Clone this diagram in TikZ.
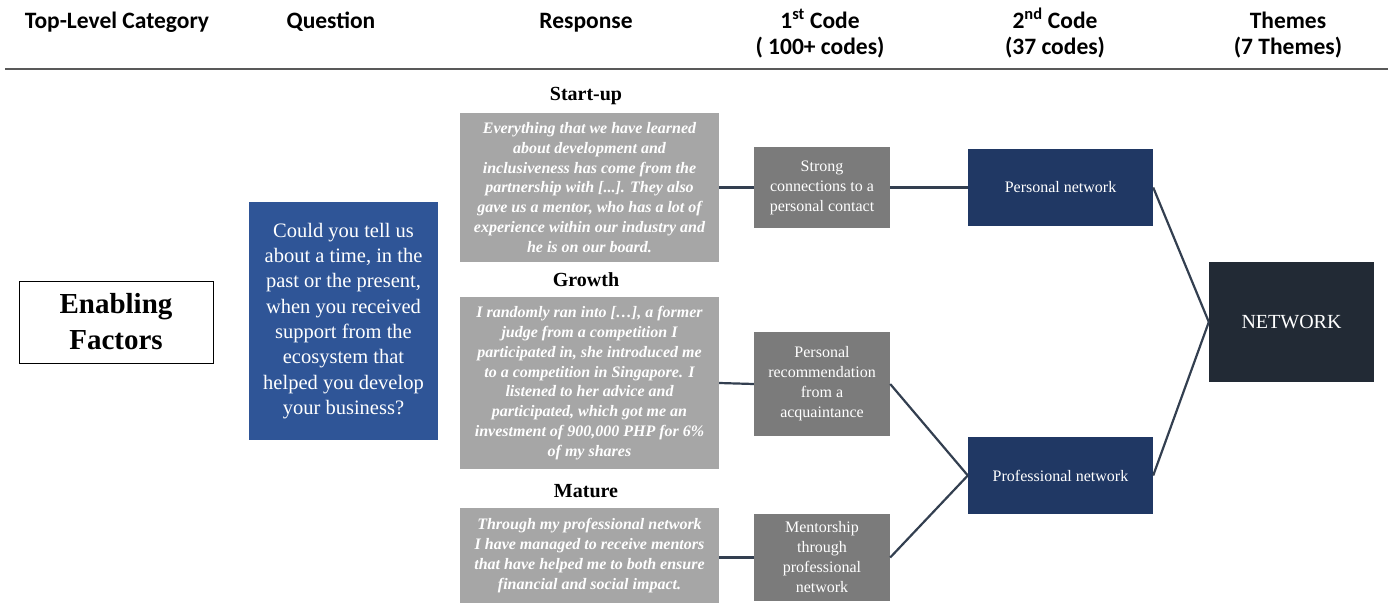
\documentclass[tikz,border=0pt]{standalone}
\usepackage{fontspec}
\setmainfont{Liberation Serif}
\newfontfamily\hdrfont{Carlito}
\begin{document}
\begin{tikzpicture}[x=1pt,y=-1pt,
  hdr/.style={font=\hdrfont\bfseries\fontsize{23.5}{28}\selectfont, inner sep=0, anchor=base},
  box/.style={inner sep=0, align=center, anchor=center},
  resp/.style={box, fill=respgray, text=white, font=\bfseries\itshape\fontsize{16}{19.8}\selectfont},
  stage/.style={inner sep=0, font=\bfseries\fontsize{20}{24}\selectfont},
  codeone/.style={box, fill=codegray, text=white, font=\fontsize{16}{20}\selectfont},
  codetwo/.style={box, fill=navy, text=white, font=\fontsize{16}{20}\selectfont},
  link/.style={draw=linkcol, line width=2.2pt}
]
\definecolor{respgray}{HTML}{A6A6A6}
\definecolor{codegray}{HTML}{7B7B7B}
\definecolor{navy}{HTML}{203864}
\definecolor{qblue}{HTML}{2F5597}
\definecolor{themecol}{HTML}{222A35}
\definecolor{linkcol}{HTML}{333F50}
\definecolor{rulegray}{HTML}{595959}
\useasboundingbox (0,0) rectangle (1391,604);

% column headings
\node[hdr] (h1) at (117,29) {Top-Level Category};
\node[hdr] (h2) at (331,29) {Question};
\node[hdr] (h3) at (586,29) {Response};
\node[hdr] (h4) at (820,29) {1\textsuperscript{st} Code};
\node[hdr] (h4b) at (820,55) {( 100+ codes)};
\node[hdr] (h5) at (1055,29) {2\textsuperscript{nd} Code};
\node[hdr] (h5b) at (1055,55) {(37 codes)};
\node[hdr] (h6) at (1288,29) {Themes};
\node[hdr] (h6b) at (1288,55) {(7 Themes)};
\draw[rulegray, line width=2.5pt] (5,69) -- (1388,69);

% category and question
\node[box, draw=black, line width=1pt, minimum width=194, minimum height=82,
  font=\bfseries\fontsize{29}{36}\selectfont] (cat) at (116,322) {Enabling\\Factors};
\node[box, fill=qblue, text=white, minimum width=189, minimum height=238,
  font=\fontsize{20.5}{25.3}\selectfont] (q) at (343.5,321)
  {Could you tell us\\about a time, in the\\past or the present,\\when you received\\support from the\\ecosystem that\\helped you develop\\your business?};

% responses by stage
\node[stage] (s1) at (586,96) {Start-up};
\node[resp, minimum width=259, minimum height=149] (r1) at (589.5,187.5)
  {Everything that we have learned\\about development and\\inclusiveness has come from the\\partnership with [...]. They also\\gave us a mentor, who has a lot of\\experience within our industry and\\he is on our board.};
\node[stage] (s2) at (586,280) {Growth};
\node[resp, minimum width=259, minimum height=172] (r2) at (589.5,383)
  {I randomly ran into […], a former\\judge from a competition I\\participated in, she introduced me\\to a competition in Singapore. I\\listened to her advice and\\participated, which got me an\\investment of 900,000 PHP for 6\%\\of my shares};
\node[stage] (s3) at (586,491) {Mature};
\node[resp, minimum width=259, minimum height=95] (r3) at (589.5,555.5)
  {Through my professional network\\I have managed to receive mentors\\that have helped me to both ensure\\financial and social impact.};

% first-level codes
\node[codeone, minimum width=136, minimum height=81] (c1) at (822,187.5)
  {Strong\\connections to a\\personal contact};
\node[codeone, minimum width=136, minimum height=104] (c2) at (822,384)
  {Personal\\recommendation\\from a\\acquaintance};
\node[codeone, minimum width=136, minimum height=87] (c3) at (822,557.5)
  {Mentorship\\through\\professional\\network};

% second-level codes
\node[codetwo, minimum width=185, minimum height=77] (pn) at (1060.5,187.5) {Personal network};
\node[codetwo, minimum width=185, minimum height=77] (prn) at (1060.5,475.5) {Professional network};

% theme
\node[box, fill=themecol, text=white, minimum width=165, minimum height=120,
  font=\fontsize{20}{24}\selectfont] (th) at (1291.5,322) {NETWORK};

% links
\draw[link] (r1.east) -- (c1.west);
\draw[link] (r2.east) -- (c2.west);
\draw[link] (c3.west -| r3.east) -- (c3.west);
\draw[link] (c1.east) -- (pn.west);
\draw[link] (c2.east) -- (prn.west);
\draw[link] (c3.east) -- (prn.west);
\draw[link] (pn.east) -- (th.west);
\draw[link] (prn.east) -- (th.west);
\end{tikzpicture}
\end{document}
